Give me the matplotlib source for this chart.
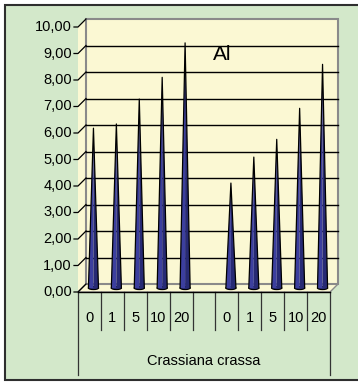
import matplotlib
matplotlib.use("Agg")
import matplotlib.pyplot as plt
from matplotlib.patches import Polygon, Rectangle, Ellipse
from matplotlib.lines import Line2D
from matplotlib.transforms import ScaledTranslation, IdentityTransform

plt.rcParams['font.family'] = ['Liberation Sans', 'DejaVu Sans']

# ---- data ----
categories = ["0", "1", "5", "10", "20", "", "0", "1", "5", "10", "20"]
values = [6.03, 6.19, 7.13, 7.95, 9.25, None, 3.96, 4.94, 5.61, 6.78, 8.44]
group_label = "Crassiana crassa"
chart_title = "Al"
y_ticks = list(range(0, 11))

W, H, DPI = 358, 383, 100
GREEN = "#D3E8CA"
YELLOW = "#FBF8D3"
GRAY = "#8A8A8A"
CONE_L = "#3C3F9E"
CONE_R = "#272A74"

fig = plt.figure(figsize=(W / DPI, H / DPI), dpi=DPI, facecolor="white")

# outer chart frame
frame = Rectangle((5 / W, 3 / H), 1.2, 375 / H, transform=fig.transFigure,
                  facecolor=GREEN, edgecolor="#2E2E2E", linewidth=1.5, zorder=-10)
fig.patches.append(frame)

# front plane of the 3-D plot area
ax = fig.add_axes([78 / W, 91 / H, 252 / W, 265 / H])
ax.set_xlim(0, len(categories))
ax.set_ylim(0, 10)
ax.axis("off")
ax.patch.set_alpha(0)

depth = 8 / DPI
back = ax.transData + ScaledTranslation(depth, depth, fig.dpi_scale_trans)
mid = ax.transData + ScaledTranslation(depth / 2, depth / 2, fig.dpi_scale_trans)
n = len(categories)

fig.canvas.draw()
pix = IdentityTransform()

def fp(x, y):
    return ax.transData.transform((x, y))

def bp(x, y):
    return back.transform((x, y))

# side wall and floor
side = Polygon([fp(0, 0), fp(0, 10), bp(0, 10), bp(0, 0)], closed=True,
               transform=pix, facecolor=YELLOW, edgecolor="none", zorder=-5)
fig.add_artist(side)
floor = Polygon([fp(0, 0), fp(n, 0), bp(n, 0), bp(0, 0)], closed=True,
                transform=pix, facecolor=YELLOW, edgecolor=GRAY, linewidth=1.0, zorder=-5)
fig.add_artist(floor)

# back wall
wall = Rectangle((0, 0), n, 10, transform=back, facecolor=YELLOW,
                 edgecolor=GRAY, linewidth=1.5, zorder=1, clip_on=False)
ax.add_patch(wall)
for v in y_ticks[1:-1]:
    ax.plot([0, n], [v, v], transform=back, color="black", lw=1.0, zorder=2, clip_on=False)

# side-wall gridlines with ticks and tick labels
for v in y_ticks:
    f = fp(0, v)
    b = bp(0, v)
    fig.add_artist(Line2D([f[0] - 4, f[0], b[0]], [f[1], f[1], b[1]], transform=pix,
                          color="black", lw=0.9, zorder=3))
    fig.text((f[0] - 6) / W, f[1] / H, f"{v:.2f}".replace(".", ","), ha="right",
             va="center", fontsize=10.5, color="black")

# cones
hw = 0.22
for i, v in enumerate(values):
    if v is None:
        continue
    cx = i + 0.5
    ax.add_patch(Ellipse((cx, 0), 2 * hw, 0.12, transform=mid, facecolor=CONE_R,
                         edgecolor="black", lw=0.8, zorder=4, clip_on=False))
    ax.add_patch(Polygon([(cx - hw, 0), (cx, v), (cx, 0)], closed=True, transform=mid,
                         facecolor=CONE_L, edgecolor="none", zorder=5, clip_on=False))
    ax.add_patch(Polygon([(cx, 0), (cx, v), (cx + hw, 0)], closed=True, transform=mid,
                         facecolor=CONE_R, edgecolor="none", zorder=5, clip_on=False))
    ax.plot([cx - hw, cx, cx + hw], [0, v, 0], transform=mid, color="black",
            lw=0.9, zorder=6, clip_on=False)

# category axis
ax.plot([0, n], [0, 0], color="black", lw=1.0, zorder=7, clip_on=False)
short = -38 / 26.5
long_ = -83 / 26.5
for k in range(n + 1):
    y1 = long_ if k in (0, n) else short
    ax.plot([k, k], [0, y1], color="#333333", lw=0.9, clip_on=False)
for i, c in enumerate(categories):
    ax.text(i + 0.5, -26 / 26.5, c, ha="center", va="center", fontsize=10.5)
ax.text(n / 2, -69 / 26.5, group_label, ha="center", va="center", fontsize=10.5)

fig.text(222 / W, 1 - 55 / H, chart_title, ha="center", va="center", fontsize=15,
         family=["Liberation Sans Narrow", "Liberation Sans"])

fig.savefig("out.png", dpi=DPI, facecolor="white")
